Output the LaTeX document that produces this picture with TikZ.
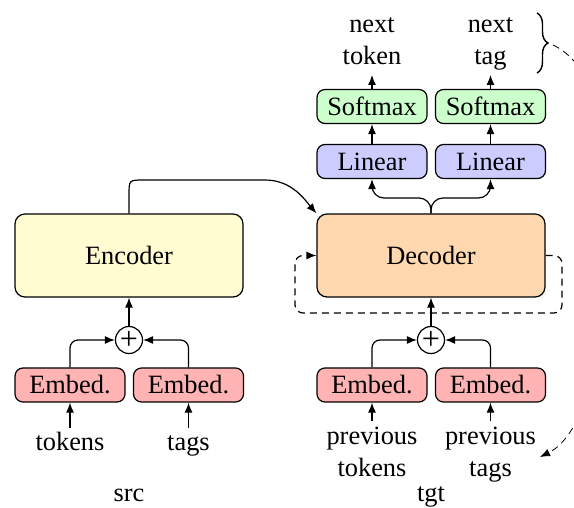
\documentclass[tikz,border=0pt]{standalone}
\usepackage{fontspec}
\setmainfont{Liberation Serif}
\usetikzlibrary{arrows.meta,decorations.pathreplacing}
\definecolor{encc}{HTML}{FFFCD2}
\definecolor{decc}{HTML}{FFD8B0}
\definecolor{embc}{HTML}{FFB3B3}
\definecolor{linc}{HTML}{CCCCFF}
\definecolor{smc}{HTML}{CCFFCC}
\begin{document}
\begin{tikzpicture}[x=0.5pt,y=-0.5pt,
  font=\fontsize{13.2}{16}\selectfont,
  line width=0.6pt,
  box/.style={draw, rounded corners=4pt, minimum width=55pt, minimum height=17pt, inner sep=0pt},
  bigbox/.style={draw, rounded corners=5pt, minimum width=114pt, minimum height=41.5pt, inner sep=0pt},
  plusnode/.style={draw, circle, minimum size=13.5pt, inner sep=0pt, fill=white, font=\fontsize{16}{16}\selectfont},
  arr/.style={-{Latex[length=5pt,width=4pt]}},
  lbl/.style={inner sep=0pt, align=center},
  loopdash/.style={dash pattern=on 3.5pt off 2.5pt}]
\useasboundingbox (0,0) rectangle (574,508);

% main blocks
\node[bigbox, fill=encc] (enc) at (129,255.5) {Encoder};
\node[bigbox, fill=decc] (dec) at (431,255.5) {Decoder};

% plus nodes
\node[plusnode] (p1) at (129,340) {+};
\node[plusnode] (p2) at (431,340) {+};

% embeddings
\node[box, fill=embc] (e1) at (70,385) {Embed.};
\node[box, fill=embc] (e2) at (188.5,385) {Embed.};
\node[box, fill=embc] (e3) at (372,385) {Embed.};
\node[box, fill=embc] (e4) at (490.5,385) {Embed.};

% linear and softmax
\node[box, fill=linc] (l1) at (372,161.5) {Linear};
\node[box, fill=linc] (l2) at (490.5,161.5) {Linear};
\node[box, fill=smc] (s1) at (372,106.5) {Softmax};
\node[box, fill=smc] (s2) at (490.5,106.5) {Softmax};

% texts
\node[lbl, anchor=south] (o1) at (372,75) {next\\token\strut};
\node[lbl, anchor=south] (o2) at (490.5,75) {next\\tag\strut};
\node[lbl, anchor=north] (i1) at (70,428) {\strut tokens};
\node[lbl, anchor=north] (i2) at (188.5,428) {\strut tags};
\node[lbl, anchor=north] (i3) at (372,421) {\strut previous\\tokens};
\node[lbl, anchor=north] (i4) at (490.5,421) {\strut previous\\tags};
\node[lbl, anchor=base] (src) at (129,502) {src};
\node[lbl, anchor=base] (tgt) at (431,502) {tgt};

% input arrows
\draw[arr] (i1.north) -- (e1.south);
\draw[arr] (i2.north) -- (e2.south);
\draw[arr] (i3.north) -- (e3.south);
\draw[arr] (i4.north) -- (e4.south);

% embed to plus
\draw[arr, rounded corners=4pt] (e1.north) |- (p1.west);
\draw[arr, rounded corners=4pt] (e2.north) |- (p1.east);
\draw[arr, rounded corners=4pt] (e3.north) |- (p2.west);
\draw[arr, rounded corners=4pt] (e4.north) |- (p2.east);
\draw[arr] (p1.north) -- (enc.south);
\draw[arr] (p2.north) -- (dec.south);

% decoder to linear
\coordinate (split) at (431,198);
\draw[arr, rounded corners=6pt] (dec.north) -- (split) -| (l1.south);
\draw[arr, rounded corners=6pt] (dec.north) -- (split) -| (l2.south);
\draw[arr] (l1.north) -- (s1.south);
\draw[arr] (l2.north) -- (s2.south);
\draw[arr] (s1.north) -- (o1.south);
\draw[arr] (s2.north) -- (o2.south);

% encoder to decoder
\draw[arr] (enc.north) -- (129,195) .. controls (129,180) .. (144,180)
  -- (265,180) .. controls (292,180) and (305,200) .. (dec.north west);

% dashed loop around decoder
\draw[arr, loopdash, rounded corners=4pt] (dec.east) -- (562,255.5) -- (562,313)
  -- (295,313) -- (295,255.5) -- (dec.west);

% brace
\coordinate (bt) at (537,13);
\coordinate (bb) at (537,73);
\draw[decorate, decoration={brace, amplitude=5.5pt}, line width=0.7pt] (bt) -- (bb);
\coordinate (btip) at (553,45);
\coordinate (fb) at (540,457);
\draw[arr, loopdash, line width=0.4pt] (btip) .. controls (650,90) and (620,418) .. (fb);
\end{tikzpicture}
\end{document}
